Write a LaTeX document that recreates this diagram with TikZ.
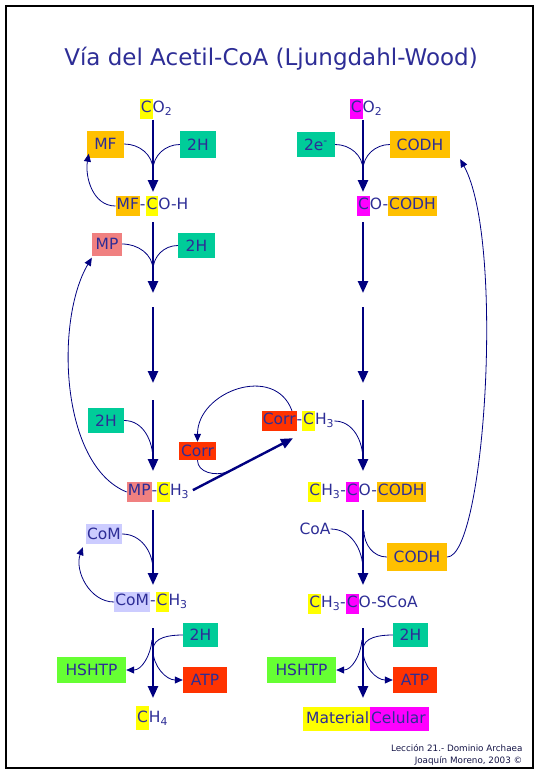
\documentclass[tikz,border=0pt]{standalone}
\usepackage{fontspec}
\setmainfont{DejaVu Sans}
\usetikzlibrary{arrows.meta}

\definecolor{ink}{RGB}{45,45,150}
\definecolor{navy}{RGB}{0,0,128}
\definecolor{amber}{RGB}{255,192,0}
\definecolor{teal2}{RGB}{0,204,153}
\definecolor{salmon}{RGB}{240,128,128}
\definecolor{scarlet}{RGB}{255,51,0}
\definecolor{lavender}{RGB}{204,204,255}
\definecolor{lime}{RGB}{102,255,51}
\definecolor{yell}{RGB}{255,255,0}
\definecolor{mag}{RGB}{255,0,255}

\newcommand{\hl}[2]{{\setlength{\fboxsep}{1pt}\colorbox{#1}{\strut #2}}}
\newcommand{\hlbig}[2]{{\setlength{\fboxsep}{1pt}\colorbox{#1}{\rule[-6.5pt]{0pt}{22pt}#2}}}

\tikzset{
  tag/.style={fill=#1, text=ink, inner sep=0pt, font=\fontsize{15.5}{18}\selectfont},
  chem/.style={text=ink, inner sep=0pt, font=\fontsize{15.5}{18}\selectfont},
  shaft/.style={draw=navy, line width=2.4pt, -{Triangle[length=12pt,width=10pt]}},
  sidein/.style={draw=navy, line width=0.8pt},
  backarrow/.style={sidein, -{Triangle[length=8pt,width=7pt]}},
}

\begin{document}
\begin{tikzpicture}[x=1pt,y=1pt]
  \useasboundingbox (0,0) rectangle (540,-780);
  \draw[line width=1.2pt] (6,-6) rectangle (533,-768);

  \node[text=ink,font=\fontsize{23}{27}\selectfont] (title) at (271,-58.5) {Vía del Acetil-CoA (Ljungdahl-Wood)};

  % left column
  \node[chem] (co2L) at (156,-109) {\hl{yell}{C}O\textsubscript{2}};
  \node[tag=amber,minimum width=37pt,minimum height=27pt] (mf) at (105.5,-144) {MF};
  \node[tag=teal2,minimum width=36pt,minimum height=27pt] (h2a) at (198,-144.5) {2H};
  \node[chem] (mfco) at (152,-206) {\hl{amber}{MF}-\hl{yell}{C}O-H};
  \node[tag=salmon,minimum width=30pt,minimum height=23pt] (mp) at (107,-244) {MP};
  \node[tag=teal2,minimum width=37pt,minimum height=25pt] (h2b) at (196.5,-245.5) {2H};
  \node[tag=teal2,minimum width=36pt,minimum height=25pt] (h2c) at (106,-420.5) {2H};
  \node[tag=scarlet,minimum width=37pt,minimum height=18pt] (corr) at (197.5,-451) {Corr};
  \node[chem] (mpch3) at (158,-492) {\hl{salmon}{MP}-\hl{yell}{C}H\textsubscript{3}};
  \node[chem] (corrch3) at (298,-421) {\hl{scarlet}{Corr}-\hl{yell}{C}H\textsubscript{3}};
  \node[tag=lavender,minimum width=36pt,minimum height=20pt] (com) at (104,-534) {CoM};
  \node[chem] (comch3) at (151,-602) {\hl{lavender}{CoM}-\hl{yell}{C}H\textsubscript{3}};
  \node[tag=teal2,minimum width=35pt,minimum height=24pt] (h2d) at (200.5,-635) {2H};
  \node[tag=lime,minimum width=69pt,minimum height=26pt] (hshtpL) at (91.5,-670) {HSHTP};
  \node[tag=scarlet,minimum width=44pt,minimum height=26pt] (atpL) at (205,-680) {ATP};
  \node[chem] (ch4) at (152,-718) {\hlbig{yell}{C}H\textsubscript{4}};

  % right column
  \node[chem] (co2R) at (366,-109) {\hl{mag}{C}O\textsubscript{2}};
  \node[tag=teal2,minimum width=38pt,minimum height=25pt] (e2) at (316,-144.5) {2e\textsuperscript{-}};
  \node[tag=amber,minimum width=60pt,minimum height=27pt] (codhA) at (420,-144.5) {CODH};
  \node[chem] (coc) at (397,-206) {\hl{mag}{C}O-\hl{amber}{CODH}};
  \node[chem] (ch3cocodh) at (367,-492) {\hl{yell}{C}H\textsubscript{3}-\hl{mag}{C}O-\hl{amber}{CODH}};
  \node[chem] (coa) at (315,-529) {CoA};
  \node[tag=amber,minimum width=60pt,minimum height=28pt] (codhB) at (417,-557) {CODH};
  \node[chem] (ch3coscoa) at (363,-604) {\hl{yell}{C}H\textsubscript{3}-\hl{mag}{C}O-SCoA};
  \node[tag=teal2,minimum width=35pt,minimum height=24pt] (h2e) at (410.5,-635) {2H};
  \node[tag=lime,minimum width=69pt,minimum height=26pt] (hshtpR) at (301.5,-670) {HSHTP};
  \node[tag=scarlet,minimum width=44pt,minimum height=26pt] (atpR) at (415,-680) {ATP};
  \node[chem] (matcel) at (366,-719) {\hlbig{yell}{\,Material}\hlbig{mag}{Celular\,}};

  \node[anchor=east,align=right,text={rgb,255:red,20;green,20;blue,70},font=\fontsize{8.8}{11.5}\selectfont] (credit) at (526,-755) {Lección 21.- Dominio Archaea\\Joaquín Moreno, 2003 ©};

  % shaft ends and joins
  \foreach \c/\x in {L/153,R/363}{
    \foreach \n/\y in {1/120,2/192,3/222,4/293,5/307,6/383,7/400,8/471,9/510,10/585,11/628,12/698}
      \coordinate (\c\n) at (\x,-\y);
  }
  \coordinate (jL1) at (153,-170);
  \coordinate (jL2) at (153,-270);
  \coordinate (jL3) at (153,-460);
  \coordinate (jL4) at (153,-570);
  \coordinate (jL5) at (153,-650);
  \coordinate (jL6) at (152,-640);
  \coordinate (jR1) at (363,-170);
  \coordinate (jR3) at (363,-460);
  \coordinate (jR4) at (363,-570);
  \coordinate (jR5) at (363,-650);
  \coordinate (jR6) at (362,-640);
  \coordinate (oR4) at (364,-531);
  \coordinate (jC) at (227,-472);

  \foreach \c in {L,R}
    \foreach \a/\b in {1/2,3/4,5/6,7/8,9/10,11/12}
      \draw[shaft] (\c\a) -- (\c\b);

  % left side links
  \draw[sidein] (mf.east) to[out=0,in=90] (jL1);
  \draw[sidein] (h2a.west) to[out=180,in=90] (jL1);
  \draw[backarrow] (mfco.west) to[out=180,in=-100] ([shift={(2pt,4pt)}]mf.south west);
  \draw[sidein] (mp.east) to[out=0,in=90] (jL2);
  \draw[sidein] (h2b.west) to[out=180,in=90] (jL2);
  \draw[backarrow] (mpch3.west) .. controls (60,-465) and (55,-320) .. ([yshift=-2pt]mp.south west);
  \draw[sidein] (h2c.east) to[out=0,in=90] (jL3);
  \draw[shaft,shorten <=4pt] (mpch3.east) -- ([shift={(-5pt,-7pt)}]corrch3.south);
  \draw[sidein] (corr.south) to[out=-90,in=200] (jC);
  \draw[backarrow] ([xshift=-6pt]corrch3.north) to[out=110,in=90,looseness=1.3] (corr.north);
  \draw[sidein] (corrch3.east) to[out=0,in=90] (jR3);
  \draw[sidein] (com.east) to[out=0,in=90] (jL4);
  \draw[backarrow] (comch3.west) to[out=180,in=-110] ([shift={(-3pt,-3pt)}]com.south west);
  \draw[sidein] (h2d.west) to[out=180,in=90] (jL5);
  \draw[backarrow] (jL6) to[out=-95,in=0] (hshtpL.east);
  \draw[backarrow] (jL5) to[out=-90,in=180] (atpL.west);

  % right side links
  \draw[sidein] (e2.east) to[out=0,in=90] (jR1);
  \draw[sidein] (codhA.west) to[out=180,in=90] (jR1);
  \draw[sidein] (coa.east) to[out=0,in=90] (jR4);
  \draw[sidein] (oR4) to[out=-90,in=180] (codhB.west);
  \draw[backarrow] (codhB.east) .. controls (485,-557) and (505,-240) .. ([shift={(10pt,-1pt)}]codhA.south east);
  \draw[sidein] (h2e.west) to[out=180,in=90] (jR5);
  \draw[backarrow] (jR6) to[out=-95,in=0] (hshtpR.east);
  \draw[backarrow] (jR5) to[out=-90,in=180] (atpR.west);
\end{tikzpicture}
\end{document}
